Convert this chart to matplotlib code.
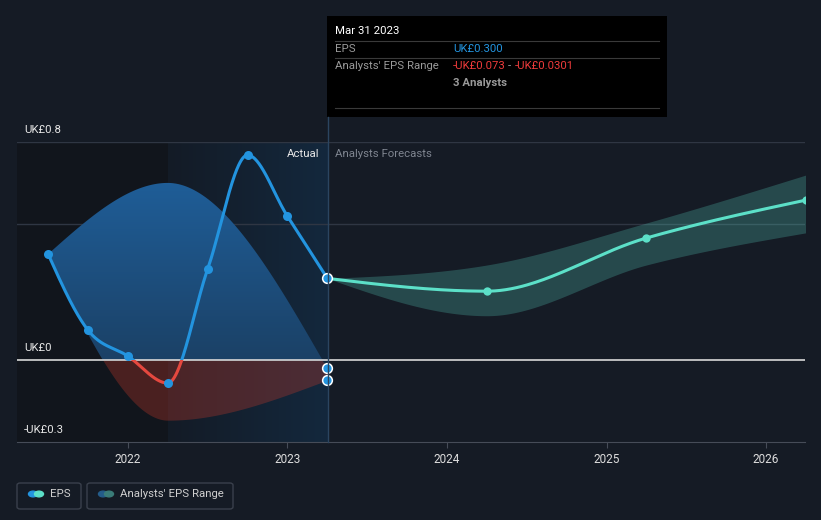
import numpy as np
import matplotlib
matplotlib.use("Agg")
import matplotlib.pyplot as plt
from matplotlib.patches import Rectangle, FancyBboxPatch, Circle
from matplotlib.lines import Line2D
from matplotlib.colors import LinearSegmentedColormap

plt.rcParams['font.family'] = ['Roboto', 'DejaVu Sans']

# ---- data (decimal years) ----
eps_dates = [2021.5, 2021.75, 2022.0, 2022.25, 2022.5, 2022.75, 2023.0, 2023.25]
eps_values = [0.389, 0.110, 0.015, -0.084, 0.334, 0.752, 0.528, 0.300]

range_dates = [2021.5, 2022.25, 2023.25]
range_low = [0.389, -0.220, -0.073]
range_high = [0.389, 0.650, -0.0301]

fc_dates = [2023.25, 2024.25, 2025.25, 2026.25]
fc_values = [0.300, 0.253, 0.448, 0.587]
fc_low = [0.300, 0.163, 0.349, 0.467]
fc_high = [0.300, 0.349, 0.503, 0.679]

year_ticks = [2022, 2023, 2024, 2025, 2026]
y_labels = {0.8: "UK£0.8", 0.0: "UK£0", -0.3: "-UK£0.3"}

BG = "#151b25"
BLUE = "#2394df"
TEAL = "#5ce0c8"
RED = "#e5483f"


def monotone(xs, ys, n=60):
    x = np.asarray(xs, float)
    y = np.asarray(ys, float)
    h = np.diff(x)
    s = np.diff(y) / h
    m = np.zeros(len(x))
    for i in range(1, len(x) - 1):
        p = (s[i - 1] * h[i] + s[i] * h[i - 1]) / (h[i - 1] + h[i])
        m[i] = (np.sign(s[i - 1]) + np.sign(s[i])) * min(abs(s[i - 1]), abs(s[i]), 0.5 * abs(p))
    if len(x) > 2:
        m[0] = (3 * s[0] - m[1]) / 2
        m[-1] = (3 * s[-1] - m[-2]) / 2
    else:
        m[0] = m[-1] = s[0]
    X, Y = [], []
    for i in range(len(x) - 1):
        t = np.linspace(0, 1, n)
        h00 = 2 * t**3 - 3 * t**2 + 1
        h10 = t**3 - 2 * t**2 + t
        h01 = -2 * t**3 + 3 * t**2
        h11 = t**3 - t**2
        yy = h00 * y[i] + h10 * h[i] * m[i] + h01 * y[i + 1] + h11 * h[i] * m[i + 1]
        xx = x[i] + t * h[i]
        if i > 0:
            xx, yy = xx[1:], yy[1:]
        X.append(xx)
        Y.append(yy)
    return np.concatenate(X), np.concatenate(Y)


W, H = 821, 520
fig = plt.figure(figsize=(W / 100, H / 100), dpi=100, facecolor=BG)


def fx(px):
    return px / W


def fy(py):
    return 1 - py / H


ax = fig.add_axes([fx(17), fy(442), (805 - 17) / W, 300 / H])
ax.set_facecolor(BG)
x0, x1 = 2021.305, 2026.244

# background regions
ax.axvspan(x0, 2022.25, color="#11151c", zorder=0, lw=0)
grad = np.linspace(0, 1, 256).reshape(1, -1)
cm = LinearSegmentedColormap.from_list("hl", ["#141b26", "#13283d"])
ax.imshow(grad, extent=[2022.25, 2023.25, -0.3, 0.8], aspect="auto", cmap=cm, zorder=0.5)
ax.set_xlim(x0, x1)
ax.set_ylim(-0.3, 0.8)

# gridlines
for g in [0.8, 0.5]:
    ax.axhline(g, color="#2f3643", lw=1, zorder=1)
ax.axhline(0, color="#d8d8d8", lw=1.2, zorder=3)

# analyst range (past)
rx, rl = monotone(range_dates, range_low)
_, rh = monotone(range_dates, range_high)
blue_poly = ax.fill_between(rx, np.maximum(rl, 0), np.maximum(rh, 0), color="none", lw=0, zorder=2)
vgrad = np.linspace(0, 1, 256).reshape(-1, 1)
bcm = LinearSegmentedColormap.from_list("bl", ["#1b4166", "#2064a3"])
im = ax.imshow(vgrad, extent=[x0, x1, 0, 0.8], origin="lower", aspect="auto", cmap=bcm, zorder=2)
im.set_clip_path(blue_poly.get_paths()[0], transform=ax.transData)
ax.fill_between(rx, np.minimum(rl, 0), np.minimum(rh, 0), color="#c0392b", alpha=0.33, lw=0, zorder=2)

# forecast range
fx_, fl = monotone(fc_dates, fc_low)
_, fh = monotone(fc_dates, fc_high)
ax.fill_between(fx_, fl, fh, color="#59d6c4", alpha=0.25, lw=0, zorder=2)

ax.set_xlim(x0, x1)
ax.set_ylim(-0.3, 0.8)

# EPS line
ex, ey = monotone(eps_dates, eps_values)
lb, = ax.plot(ex, ey, color=BLUE, lw=2.2, zorder=4, solid_capstyle="round")
lr, = ax.plot(ex, ey, color=RED, lw=2.2, zorder=4, solid_capstyle="round")
lb.set_clip_path(Rectangle((x0, 0.0), x1 - x0, 1.0, transform=ax.transData))
lr.set_clip_path(Rectangle((x0, -0.5), x1 - x0, 0.5, transform=ax.transData))
ax.plot(eps_dates[:-1], eps_values[:-1], "o", color=BLUE, ms=6.5, mew=0, zorder=5)

# forecast line
fcx, fcy = monotone(fc_dates, fc_values)
ax.plot(fcx, fcy, color=TEAL, lw=2.2, zorder=4)
ax.plot(fc_dates[1:], fc_values[1:], "o", color=TEAL, ms=6, mew=0, zorder=5, clip_on=True)

# highlighted points at Mar 31 2023
ax.plot([eps_dates[-1]], [eps_values[-1]], "o", color=BLUE, ms=7, mec="white", mew=1.1, zorder=6)
ax.plot([range_dates[-1]] * 2, [range_low[-1], range_high[-1]], "o", color=BLUE, ms=7,
        mec="white", mew=1.1, zorder=6, ls="none", clip_on=False)

# axes styling
for sp in ["top", "right", "left"]:
    ax.spines[sp].set_visible(False)
ax.spines["bottom"].set_color("#464c58")
ax.set_yticks([])
ax.set_xticks(year_ticks)
ax.set_xticklabels([str(y) for y in year_ticks])
ax.tick_params(axis="x", colors="#464c58", labelcolor="#dddddd", labelsize=8.5, length=4, pad=4)

# y labels
for val, lab in y_labels.items():
    py = 360 - val * 272.5
    fig.text(fx(24), fy(py - 12), lab, color="#e6e6e6", fontsize=8.2, va="center", ha="left")

# Actual / Forecasts labels
fig.text(fx(319), fy(154), "Actual", color="#e6e6e6", fontsize=8.2, ha="right", va="center")
fig.text(fx(335), fy(154), "Analysts Forecasts", color="#7f8590", fontsize=8.2, ha="left", va="center")

# vertical marker line
fig.add_artist(Line2D([fx(327.5), fx(327.5)], [fy(117), fy(442)], color="#2b4560", lw=1))

# tooltip
fig.add_artist(Rectangle((fx(327), fy(117)), 340 / W, 101 / H, facecolor="black", edgecolor="none"))
fig.text(fx(335), fy(31), "Mar 31 2023", color="white", fontsize=8.2, va="center")
for ly in [41, 58, 108]:
    fig.add_artist(Line2D([fx(335), fx(659)], [fy(ly), fy(ly)], color="#3a3a3a", lw=0.8))
fs = 8.2
fig.text(fx(335), fy(49), "EPS", color="#9a9a9a", fontsize=fs, va="center")
fig.text(fx(453), fy(49), "UK£0.300", color=BLUE, fontsize=fs, va="center")
fig.text(fx(335), fy(66), "Analysts' EPS Range", color="#9a9a9a", fontsize=fs, va="center")
fig.text(fx(453), fy(66), "-UK£0.073", color="#ee3b3b", fontsize=fs, va="center")
fig.text(fx(509.5), fy(66), "-", color="#9a9a9a", fontsize=fs, va="center", ha="center")
fig.text(fx(515), fy(66), "-UK£0.0301", color="#ee3b3b", fontsize=fs, va="center")
fig.text(fx(453), fy(83), "3 Analysts", color="#9a9a9a", fontsize=fs, va="center", fontweight="bold")

# legend
for (bx, bw) in [(17, 64), (87, 146)]:
    fig.add_artist(FancyBboxPatch((fx(bx), fy(509)), bw / W, 26 / H,
                                  boxstyle="round,pad=0,rounding_size=0.004",
                                  facecolor=BG, edgecolor="#3a404c", lw=1))
fig.add_artist(Circle((fx(33), fy(494)), 4.5 / W, color=BLUE))
fig.add_artist(Circle((fx(39), fy(494)), 4.5 / W, color=TEAL))
fig.text(fx(50), fy(494), "EPS", color="#cfcfcf", fontsize=8.2, va="center")
fig.add_artist(Circle((fx(103), fy(494)), 4.5 / W, color="#245c8a"))
fig.add_artist(Circle((fx(109), fy(494)), 4.5 / W, color="#3a7c78"))
fig.text(fx(120), fy(494), "Analysts' EPS Range", color="#cfcfcf", fontsize=8.2, va="center")

fig.savefig("out.png", dpi=100, facecolor=BG)
